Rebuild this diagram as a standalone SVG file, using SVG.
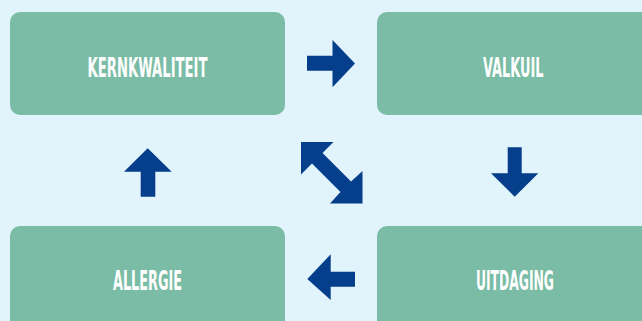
<svg xmlns="http://www.w3.org/2000/svg" width="642" height="321" viewBox="0 0 642 321">
  <style>
    .box { fill: #7abca5; }
    .lbl { fill: #ffffff; font-family: "DejaVu Sans Condensed", "DejaVu Sans", sans-serif; font-weight: bold; font-size: 26px; }
    .arr { fill: #053f8c; }
  </style>
  <rect x="0" y="0" width="642" height="321" fill="#e1f3fb"/>
  <g id="kernkwaliteit">
    <rect class="box" x="10" y="12" width="275" height="103" rx="10"/>
    <text class="lbl" x="87.5" y="76.5" textLength="120" lengthAdjust="spacingAndGlyphs">KERNKWALITEIT</text>
  </g>
  <g id="valkuil">
    <rect class="box" x="377" y="12" width="290" height="103" rx="10"/>
    <text class="lbl" x="483" y="76.5" textLength="60.5" lengthAdjust="spacingAndGlyphs">VALKUIL</text>
  </g>
  <g id="allergie">
    <rect class="box" x="10" y="226" width="275" height="110" rx="10"/>
    <text class="lbl" x="113" y="289.5" textLength="69" lengthAdjust="spacingAndGlyphs">ALLERGIE</text>
  </g>
  <g id="uitdaging">
    <rect class="box" x="377" y="226" width="290" height="110" rx="10"/>
    <text class="lbl" x="476" y="289.5" textLength="78" lengthAdjust="spacingAndGlyphs">UITDAGING</text>
  </g>
  <g id="connectors">
    <polygon class="arr" points="307,55.7 332.5,55.7 332.5,40 355,63.5 332.5,87.3 332.5,70.7 307,70.7"/>
    <polygon class="arr" points="507.7,147.3 521.7,147.3 521.7,173.3 538.3,173.3 514.7,196.7 491,173.3 507.7,173.3"/>
    <polygon class="arr" points="140.7,196.7 155.3,196.7 155.3,171.7 171.7,171.7 147.7,148.3 124,171.7 140.7,171.7"/>
    <polygon class="arr" points="355,271.7 330.7,271.7 330.7,254.3 307.3,279 330.7,300 330.7,286.7 355,286.7"/>
    <polygon class="arr" points="301,142 333.5,142 322.55,152.95 351.05,181.45 362.5,171 362.5,203.5 330,203.5 340.45,192.05 311.95,163.55 301,174.5"/>
  </g>
</svg>
